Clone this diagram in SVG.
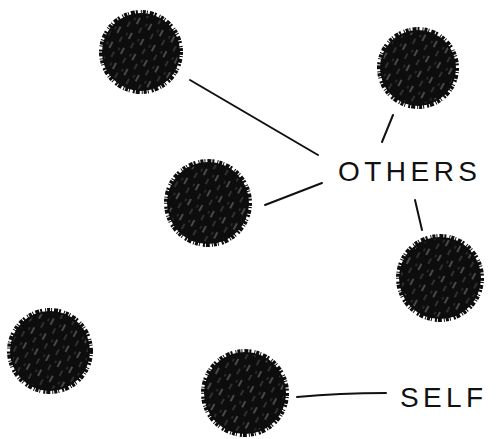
<svg xmlns="http://www.w3.org/2000/svg" width="496" height="439" viewBox="0 0 496 439">
<style>
.ball{fill:#0d0d0d}
.hatch{fill:url(#h)}
.rim{fill:none;stroke:#0d0d0d;stroke-width:4;stroke-dasharray:3 1 1 2 4 1 2 3 1 1}
.con{stroke:#111;stroke-width:2;fill:none;stroke-linecap:round}
.lbl{font-family:"Liberation Sans","DejaVu Sans",sans-serif;font-size:28px;fill:#111}
</style>
<defs>
<pattern id="h" width="13" height="17" patternUnits="userSpaceOnUse" patternTransform="rotate(28)">
<line x1="2" y1="1" x2="2" y2="8" stroke="#fff" stroke-width="0.9" opacity="0.55"/>
<line x1="8" y1="9" x2="8" y2="15" stroke="#fff" stroke-width="0.7" opacity="0.4"/>
<line x1="11" y1="3" x2="11" y2="6" stroke="#fff" stroke-width="0.6" opacity="0.35"/>
</pattern>
</defs>
<rect width="496" height="439" fill="#fff"/>
<g id="connectors">
<line class="con" x1="190" y1="80" x2="318" y2="155"/>
<line class="con" x1="265" y1="205" x2="322" y2="183"/>
<line class="con" x1="393" y1="115" x2="382" y2="142"/>
<line class="con" x1="415" y1="200" x2="422" y2="230"/>
<path class="con" d="M297 397 Q340 393 386 393"/>
</g>
<g id="n1"><circle class="ball" cx="141" cy="52" r="39"/><circle class="hatch" cx="141" cy="52" r="37"/><circle class="rim" cx="141" cy="52" r="40"/></g>
<g id="n2"><circle class="ball" cx="418" cy="68" r="38"/><circle class="hatch" cx="418" cy="68" r="36"/><circle class="rim" cx="418" cy="68" r="39"/></g>
<g id="n3"><circle class="ball" cx="208" cy="203" r="41"/><circle class="hatch" cx="208" cy="203" r="39"/><circle class="rim" cx="208" cy="203" r="42"/></g>
<g id="n4"><circle class="ball" cx="440" cy="278" r="41"/><circle class="hatch" cx="440" cy="278" r="39"/><circle class="rim" cx="440" cy="278" r="42"/></g>
<g id="n5"><circle class="ball" cx="50" cy="351" r="40"/><circle class="hatch" cx="50" cy="351" r="38"/><circle class="rim" cx="50" cy="351" r="41"/></g>
<g id="n6"><circle class="ball" cx="245" cy="393" r="41"/><circle class="hatch" cx="245" cy="393" r="39"/><circle class="rim" cx="245" cy="393" r="42"/></g>
<g id="others"><text class="lbl" x="338" y="181" textLength="139" lengthAdjust="spacing">OTHERS</text></g>
<g id="self"><text class="lbl" x="400" y="407" textLength="83" lengthAdjust="spacing">SELF</text></g>
</svg>
